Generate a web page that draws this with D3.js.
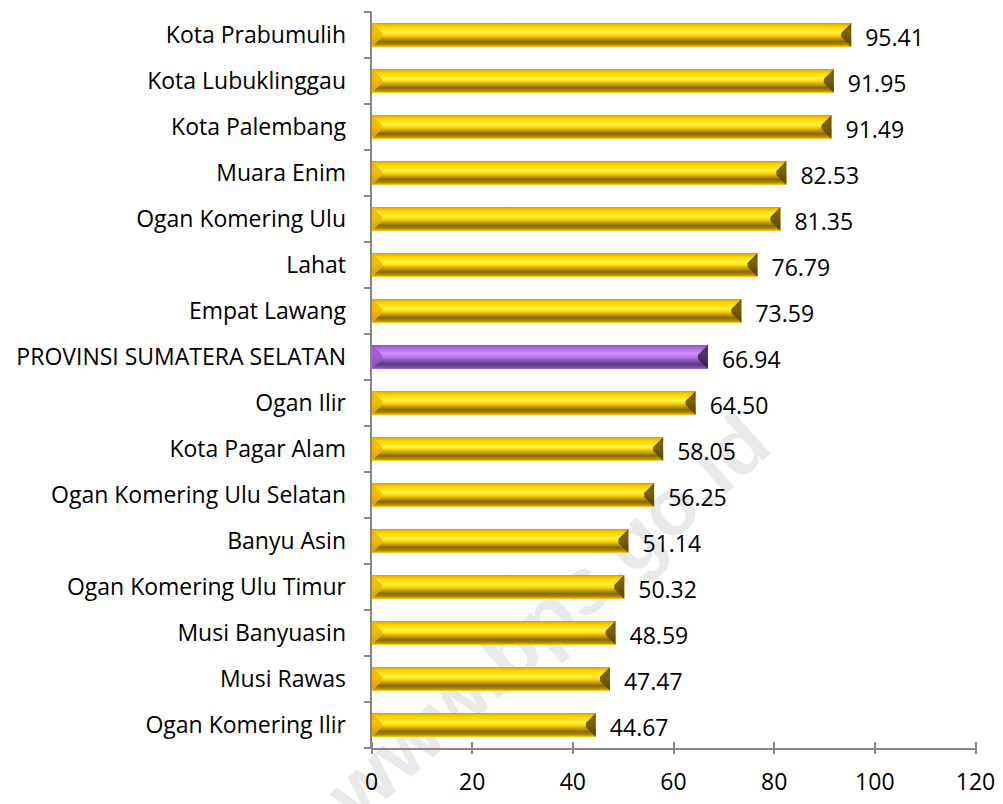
<!DOCTYPE html>
<html>
<head>
  <meta charset="utf-8">
  <style>
    body { margin: 0; background: #fff; }
    .axis path, .axis line { fill: none; stroke: #868686; stroke-width: 2px; shape-rendering: crispEdges; }
    .axis text { font-family: "Open Sans", sans-serif; font-size: 23px; fill: #000; }
    .lbl { font-family: "Open Sans", sans-serif; font-size: 23px; fill: #000; }
  </style>
  <script src="https://d3js.org/d3.v7.min.js"></script>
</head>
<body>
  <div id="graph"></div>
  <script>
    // data, top to bottom as in the chart
    var regions = ["Kota Prabumulih", "Kota Lubuklinggau", "Kota Palembang", "Muara Enim",
      "Ogan Komering Ulu", "Lahat", "Empat Lawang", "PROVINSI SUMATERA SELATAN", "Ogan Ilir",
      "Kota Pagar Alam", "Ogan Komering Ulu Selatan", "Banyu Asin", "Ogan Komering Ulu Timur",
      "Musi Banyuasin", "Musi Rawas", "Ogan Komering Ilir"];
    var values = [95.41, 91.95, 91.49, 82.53, 81.35, 76.79, 73.59, 66.94, 64.50,
      58.05, 56.25, 51.14, 50.32, 48.59, 47.47, 44.67];
    var xTicks = [0, 20, 40, 60, 80, 100, 120];
    var province = "PROVINSI SUMATERA SELATAN";

    var width = 1003, height = 804;
    var margin = { top: 12, right: 28, bottom: 56, left: 371 };
    var w = width - margin.left - margin.right;
    var h = height - margin.top - margin.bottom;

    var svg = d3.select("#graph").append("svg")
      .attr("width", width)
      .attr("height", height);

    var defs = svg.append("defs");

    function barGrad(id, c) {
      var g = defs.append("linearGradient").attr("id", id)
        .attr("x1", 0).attr("y1", 0).attr("x2", 0).attr("y2", 1);
      c.forEach(function(s) {
        g.append("stop").attr("offset", s[0]).attr("stop-color", s[1]);
      });
    }
    barGrad("gold", [[0, "#d09a00"], [0.08, "#f0c000"], [0.2, "#ffde00"], [0.4, "#fff040"],
      [0.5, "#ffdc10"], [0.62, "#d4a800"], [0.78, "#86680a"], [0.9, "#b08a00"], [1, "#ffd010"]]);
    barGrad("purple", [[0, "#8a4cc4"], [0.1, "#a468dc"], [0.35, "#d28cff"], [0.5, "#b878ec"],
      [0.65, "#8a52b8"], [0.8, "#5a3a78"], [0.92, "#7a4aa8"], [1, "#a060d8"]]);

    // watermark, under the bars
    svg.append("text")
      .attr("transform", "translate(552,622) rotate(-42)")
      .attr("text-anchor", "middle")
      .attr("dominant-baseline", "middle")
      .style("font-family", "Liberation Sans, Arial, sans-serif")
      .style("font-weight", "bold")
      .style("font-size", "80px")
      .style("fill", "#e9e9e9")
      .text("www.bps.go.id");

    var g = svg.append("g")
      .attr("transform", "translate(" + margin.left + "," + margin.top + ")");

    var x = d3.scaleLinear().domain([0, 120]).range([0, w]);
    var y = d3.scaleBand().domain(regions).range([0, h]).paddingInner(0.48).paddingOuter(0.24);
    var yTicks = d3.scaleBand().domain(regions).range([0, h]);

    // x axis
    var xAxis = g.append("g").attr("class", "x axis")
      .attr("transform", "translate(0," + h + ")")
      .call(d3.axisBottom(x).tickValues(xTicks).tickSize(6).tickSizeOuter(0).tickPadding(20));
    xAxis.selectAll(".tick line").attr("y1", -6).attr("y2", 6);

    // y axis: tick marks at category boundaries, labels centered
    var yAxis = g.append("g").attr("class", "y axis");
    yAxis.append("line").attr("x1", 0).attr("x2", 0).attr("y1", 0).attr("y2", h);
    yAxis.selectAll("line.tk")
      .data(regions.concat(["end"]))
      .join("line").attr("class", "tk")
      .attr("x1", -7).attr("x2", 0)
      .attr("y1", function(d, i) { return i < regions.length ? yTicks(d) : h; })
      .attr("y2", function(d, i) { return i < regions.length ? yTicks(d) : h; });
    yAxis.selectAll("text")
      .data(regions)
      .join("text")
      .attr("x", -25)
      .attr("y", function(d) { return yTicks(d) + yTicks.bandwidth() / 2; })
      .attr("dy", "0.35em")
      .attr("text-anchor", "end")
      .text(function(d) { return d; });

    // bevelled bars
    var bars = g.selectAll("g.bar")
      .data(regions.map(function(r, i) { return { name: r, v: values[i] }; }))
      .join("g").attr("class", "bar")
      .attr("transform", function(d) { return "translate(1," + y(d.name) + ")"; });

    var bh = y.bandwidth();
    var bev = Math.min(10, bh / 2);

    bars.append("rect")
      .attr("width", function(d) { return x(d.v) - 1; })
      .attr("height", bh)
      .attr("fill", function(d) { return d.name === province ? "url(#purple)" : "url(#gold)"; });

    // left bevel (lighter)
    bars.append("path")
      .attr("d", function() {
        return "M0,0L" + bev + "," + bev + "L" + bev + "," + (bh - bev) + "L0," + bh + "Z";
      })
      .attr("fill", function(d) { return d.name === province ? "#9a58d0" : "#f0b400"; })
      .attr("opacity", 0.85);

    // right bevel (dark)
    bars.append("path")
      .attr("d", function(d) {
        var e = x(d.v) - 1;
        return "M" + e + ",0L" + (e - bev) + "," + bev + "L" + (e - bev) + "," + (bh - bev) + "L" + e + "," + bh + "Z";
      })
      .attr("fill", function(d) { return d.name === province ? "#3a2050" : "#5e4600"; })
      .attr("opacity", 0.85);

    // value labels
    g.selectAll("text.lbl")
      .data(regions)
      .join("text").attr("class", "lbl")
      .attr("x", function(d, i) { return x(values[i]) + 14; })
      .attr("y", function(d) { return y(d) + bh / 2 + 3; })
      .attr("dy", "0.35em")
      .text(function(d, i) { return values[i].toFixed(2); });
  </script>
</body>
</html>
